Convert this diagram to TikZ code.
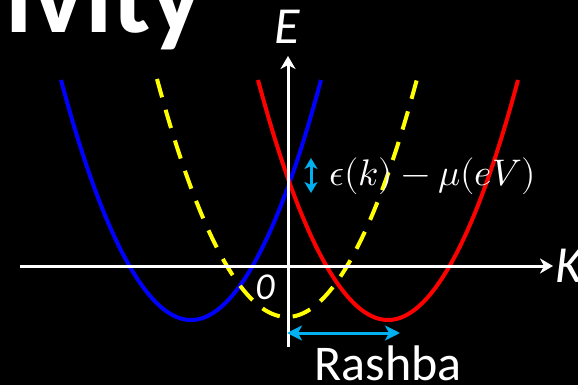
\documentclass[tikz,border=0pt]{standalone}
\usepackage{fontspec}
\usepackage{unicode-math}
\setmainfont{Carlito}
\setmathfont{Latin Modern Math}
\usetikzlibrary{arrows.meta}
\definecolor{rblue}{RGB}{0,0,255}
\definecolor{rred}{RGB}{255,0,0}
\definecolor{ryellow}{RGB}{255,255,0}
\definecolor{rcyan}{RGB}{0,176,240}
\tikzset{
  axis/.style={white, line width=3pt, -{Stealth[length=13pt,width=15pt,inset=4pt]}},
  band/.style={line width=4pt},
  dashband/.style={line width=4pt, ryellow, dash pattern=on 19pt off 13pt},
  cyanarrow/.style={rcyan, line width=3pt, {Stealth[length=15pt,width=15pt,inset=4pt]}-{Stealth[length=15pt,width=15pt,inset=4pt]}},
  smallarrow/.style={rcyan, line width=3pt, {Stealth[length=11pt,width=13pt,inset=3pt]}-{Stealth[length=11pt,width=13pt,inset=3pt]}},
  lbl/.style={text=white, inner sep=0pt}
}
\begin{document}
\begin{tikzpicture}[x=1pt,y=-1pt]
\useasboundingbox (0,0) rectangle (578,385);
\fill[black] (0,0) rectangle (578,385);
% title fragment
\node[lbl, anchor=base west, font=\fontsize{111}{111}\selectfont\bfseries] (title) at (5,33) {ivity};
% bands
\draw[band, rblue] (61,80) parabola bend (191,320) (321,80);
\draw[band, rred] (258,80) parabola bend (388,320) (518,80);
\draw[dashband] (157,79) parabola bend (287,317) (417,79);
% axes
\coordinate (xs) at (20,266);
\coordinate (xe) at (553,266);
\coordinate (ys) at (288,347);
\coordinate (ye) at (288,56);
\draw[axis] (xs) -- (xe);
\draw[axis] (ys) -- (ye);
\node[lbl, font=\fontsize{52}{52}\selectfont\itshape] (E) at (287,27) {E};
\node[lbl, anchor=west, font=\fontsize{52}{52}\selectfont\itshape] (K) at (555,266) {K};
\node[lbl, font=\fontsize{38}{38}\selectfont\itshape] (zero) at (265,287) {0};
% energy label
\coordinate (ea) at (311,158);
\coordinate (eb) at (311,193);
\draw[smallarrow] (ea) -- (eb);
\node[lbl, anchor=west, font=\fontsize{37}{37}\selectfont] (elabel) at (329,176) {$\epsilon(k)-\mu(eV)$};
% Rashba
\coordinate (ra) at (287,333);
\coordinate (rb) at (400,333);
\draw[cyanarrow] (ra) -- (rb);
\node[lbl, anchor=base, font=\fontsize{50}{50}\selectfont] (rashba) at (388,380) {Rashba};
\end{tikzpicture}
\end{document}
